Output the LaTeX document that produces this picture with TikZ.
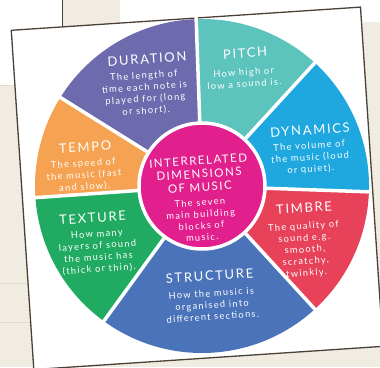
\documentclass[tikz,border=0pt]{standalone}
\usepackage{fontspec}
\setmainfont{Lato}
\newfontfamily\headfont[LetterSpace=13]{Lato}
\newfontfamily\notefont[LetterSpace=14]{Lato}
\definecolor{desk}{HTML}{F1ECE1}
\definecolor{deskline}{HTML}{E2DCCD}
\definecolor{frame}{HTML}{4B4137}
\definecolor{durationcol}{HTML}{6E6AAE}
\definecolor{pitchcol}{HTML}{5CC3BD}
\definecolor{dynamicscol}{HTML}{1EA8DF}
\definecolor{timbrecol}{HTML}{E8425A}
\definecolor{structurecol}{HTML}{4A73BA}
\definecolor{texturecol}{HTML}{21AB62}
\definecolor{tempocol}{HTML}{F5A352}
\definecolor{centrecol}{HTML}{E2208D}
\begin{document}
\begin{tikzpicture}[x=1pt, y=1pt,
  every node/.style = {text=white, align=center,
    inner sep=0pt, rotate=3.8},
  heading/.style = {font=\headfont\fontsize{13}{15}\selectfont},
  centrehead/.style = {font=\headfont\fontsize{11.5}{13.3}\selectfont},
  note/.style = {font=\notefont\fontsize{9.3}{11.7}\selectfont},
  gap/.style = {white, line width=3.5pt}]
  \useasboundingbox (0,0) rectangle (380,367);
  % desk behind the poster
  \fill[desk] (0,0) rectangle (380,367);
  \fill[white] (0,282) rectangle (62,367);
  \fill[white] (120,345) rectangle (380,367);
  \draw[deskline] (0,282) -- (62,282);
  \draw[frame, line width=1pt] (62,340) -- (62,367);
  \draw[deskline] (0,84) -- (30,84);
  \draw[deskline] (0,45) -- (32,45);
  \coordinate (c) at (202,181);
  % the poster
  \begin{scope}[shift={(c)}, rotate=3.8]
    \filldraw[fill=white, draw=frame, line width=1.3pt]
      (-180,-172) rectangle (170,168);
  \end{scope}
  % wheel
  \fill[pitchcol] (c) -- ++(47.5:167) arc[start angle=47.5, end angle=92, radius=167] -- cycle;
  \fill[dynamicscol] (c) -- ++(-2:167) arc[start angle=-2, end angle=47.5, radius=167] -- cycle;
  \fill[timbrecol] (c) -- ++(-47.5:167) arc[start angle=-47.5, end angle=-2, radius=167] -- cycle;
  \fill[structurecol] (c) -- ++(-126:167) arc[start angle=-126, end angle=-47.5, radius=167] -- cycle;
  \fill[texturecol] (c) -- ++(184:167) arc[start angle=184, end angle=234, radius=167] -- cycle;
  \fill[tempocol] (c) -- ++(148:167) arc[start angle=148, end angle=184, radius=167] -- cycle;
  \fill[durationcol] (c) -- ++(92:167) arc[start angle=92, end angle=148, radius=167] -- cycle;
  \draw[gap] (c) -- ++(92:169);
  \draw[gap] (c) -- ++(47.5:169);
  \draw[gap] (c) -- ++(-2:169);
  \draw[gap] (c) -- ++(-47.5:169);
  \draw[gap] (c) -- ++(-126:169);
  \draw[gap] (c) -- ++(184:169);
  \draw[gap] (c) -- ++(148:169);
  \filldraw[fill=centrecol, draw=white, line width=3.5pt] (c) circle[radius=63];

  \node[centrehead] (centre) at (199,193) {INTERRELATED\\DIMENSIONS\\OF MUSIC};
  \node[note] (centrenote) at (201,147) {The seven\\main building\\blocks of\\music.};

  \node[heading] (duration) at (147,308) {DURATION};
  \node[note] (durationnote) at (145,273.5) {The length of\\time each note is\\played for (long\\or short).};

  \node[heading] (pitch) at (245,314) {PITCH};
  \node[note] (pitchnote) at (244,289) {How high or\\low a sound is.};

  \node[heading] (dynamics) at (310,237) {DYNAMICS};
  \node[note] (dynamicsnote) at (310,209) {The volume of\\the music (loud\\or quiet).};

  \node[heading] (timbre) at (304,159) {TIMBRE};
  \node[note] (timbrenote) at (305,117) {The quality of\\sound e.g.\\smooth,\\scratchy,\\twinkly.};

  \node[heading] (structure) at (209.5,91) {STRUCTURE};
  \node[note] (structurenote) at (212,62) {How the music is\\organised into\\different sections.};

  \node[heading] (texture) at (92.5,149) {TEXTURE};
  \node[note] (texturenote) at (98,115) {How many\\layers of sound\\the music has\\(thick or thin).};

  \node[heading] (tempo) at (85,220) {TEMPO};
  \node[note] (temponote) at (84,191.5) {The speed of\\the music (fast\\and slow).};
\end{tikzpicture}
\end{document}
